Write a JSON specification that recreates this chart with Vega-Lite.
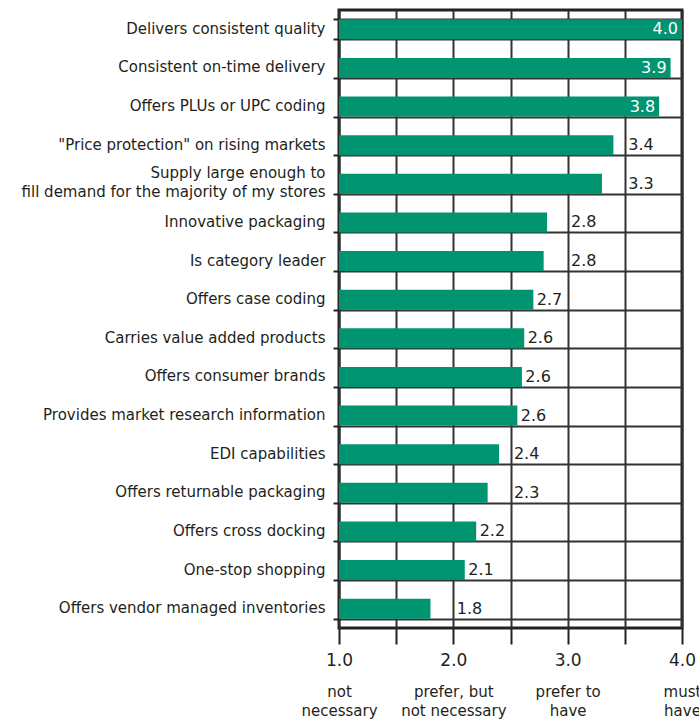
{
  "$schema": "https://vega.github.io/schema/vega-lite/v6.json",
  "width": 343,
  "height": 618,
  "autosize": "none",
  "padding": {"left": 339, "top": 10, "right": 17, "bottom": 91},
  "background": "white",
  "config": {
    "view": {"stroke": "#222", "strokeWidth": 3},
    "font": "DejaVu Sans"
  },
  "data": {
    "values": [
      {"attribute": "Delivers consistent quality", "value": 4.0},
      {"attribute": "Consistent on-time delivery", "value": 3.9},
      {"attribute": "Offers PLUs or UPC coding", "value": 3.8},
      {"attribute": "\"Price protection\" on rising markets", "value": 3.4},
      {"attribute": "Supply large enough to|fill demand for the majority of my stores", "value": 3.3},
      {"attribute": "Innovative packaging", "value": 2.82},
      {"attribute": "Is category leader", "value": 2.79},
      {"attribute": "Offers case coding", "value": 2.7},
      {"attribute": "Carries value added products", "value": 2.62},
      {"attribute": "Offers consumer brands", "value": 2.6},
      {"attribute": "Provides market research information", "value": 2.56},
      {"attribute": "EDI capabilities", "value": 2.4},
      {"attribute": "Offers returnable packaging", "value": 2.3},
      {"attribute": "Offers cross docking", "value": 2.2},
      {"attribute": "One-stop shopping", "value": 2.1},
      {"attribute": "Offers vendor managed inventories", "value": 1.8}
    ]
  },
  "encoding": {
    "y": {
      "field": "attribute",
      "type": "nominal",
      "sort": null,
      "title": null,
      "scale": {"paddingInner": 0.48, "paddingOuter": 0.24},
      "axis": {
        "tickBand": "extent",
        "grid": true,
        "gridColor": "#333",
        "gridWidth": 2,
        "gridOpacity": 1,
        "domain": false,
        "tickSize": 6,
        "tickColor": "#222",
        "tickWidth": 2,
        "labelPadding": 8,
        "labelFontSize": 15,
        "labelColor": "#231f20",
        "labelLimit": 400,
        "labelLineHeight": 19,
        "labelOffset": {"condition": {"test": "isString(datum.value) && indexof(datum.value, '|') >= 0", "value": -11}, "value": -1},
        "labelExpr": "isString(datum.value) ? split(datum.value, '|') : ''"
      }
    }
  },
  "resolve": {"axis": {"x": "independent"}},
  "layer": [
    {
      "mark": {"type": "bar", "color": "#009470"},
      "encoding": {
        "x": {
          "field": "value",
          "type": "quantitative",
          "scale": {"domain": [1, 4], "zero": false, "nice": false},
          "title": null,
          "axis": {
            "values": [1, 1.5, 2, 2.5, 3, 3.5, 4],
            "grid": true,
            "gridColor": "#333",
            "gridWidth": 2,
            "gridOpacity": 1,
            "domain": false,
            "tickSize": 16,
            "tickColor": "#222",
            "tickWidth": 2,
            "labelPadding": 8,
            "labelFontSize": 17,
            "labelColor": "#231f20",
            "labelFlush": false,
            "labelOverlap": false,
            "labelExpr": "datum.value % 1 == 0 ? format(datum.value, '.1f') : ''"
          }
        },
        "x2": {"datum": 1}
      }
    },
    {
      "transform": [{"filter": "datum.value >= 3.75"}],
      "mark": {"type": "text", "align": "right", "dx": -4, "fontSize": 16, "color": "white"},
      "encoding": {
        "x": {"field": "value", "type": "quantitative", "axis": null},
        "text": {"field": "value", "type": "quantitative", "format": ".1f"}
      }
    },
    {
      "transform": [
        {"filter": "datum.value < 3.75"},
        {"calculate": "floor((datum.value + 0.26) * 2) / 2 > datum.value + 0.001 ? floor((datum.value + 0.26) * 2) / 2 + 0.03 : datum.value + 0.03", "as": "labelAt"}
      ],
      "mark": {"type": "text", "align": "left", "fontSize": 16, "color": "#231f20"},
      "encoding": {
        "x": {
          "field": "labelAt",
          "type": "quantitative",
          "axis": {
            "orient": "bottom",
            "values": [1, 2, 3, 4],
            "grid": false,
            "domain": false,
            "ticks": false,
            "labelPadding": 56,
            "labelFontSize": 15,
            "labelColor": "#231f20",
            "labelLineHeight": 19,
            "labelFlush": false,
            "labelOverlap": false,
            "labelExpr": "datum.value == 1 ? ['not', 'necessary'] : datum.value == 2 ? ['prefer, but', 'not necessary'] : datum.value == 3 ? ['prefer to', 'have'] : ['must', 'have']"
          }
        },
        "text": {"field": "value", "type": "quantitative", "format": ".1f"}
      }
    }
  ]
}
